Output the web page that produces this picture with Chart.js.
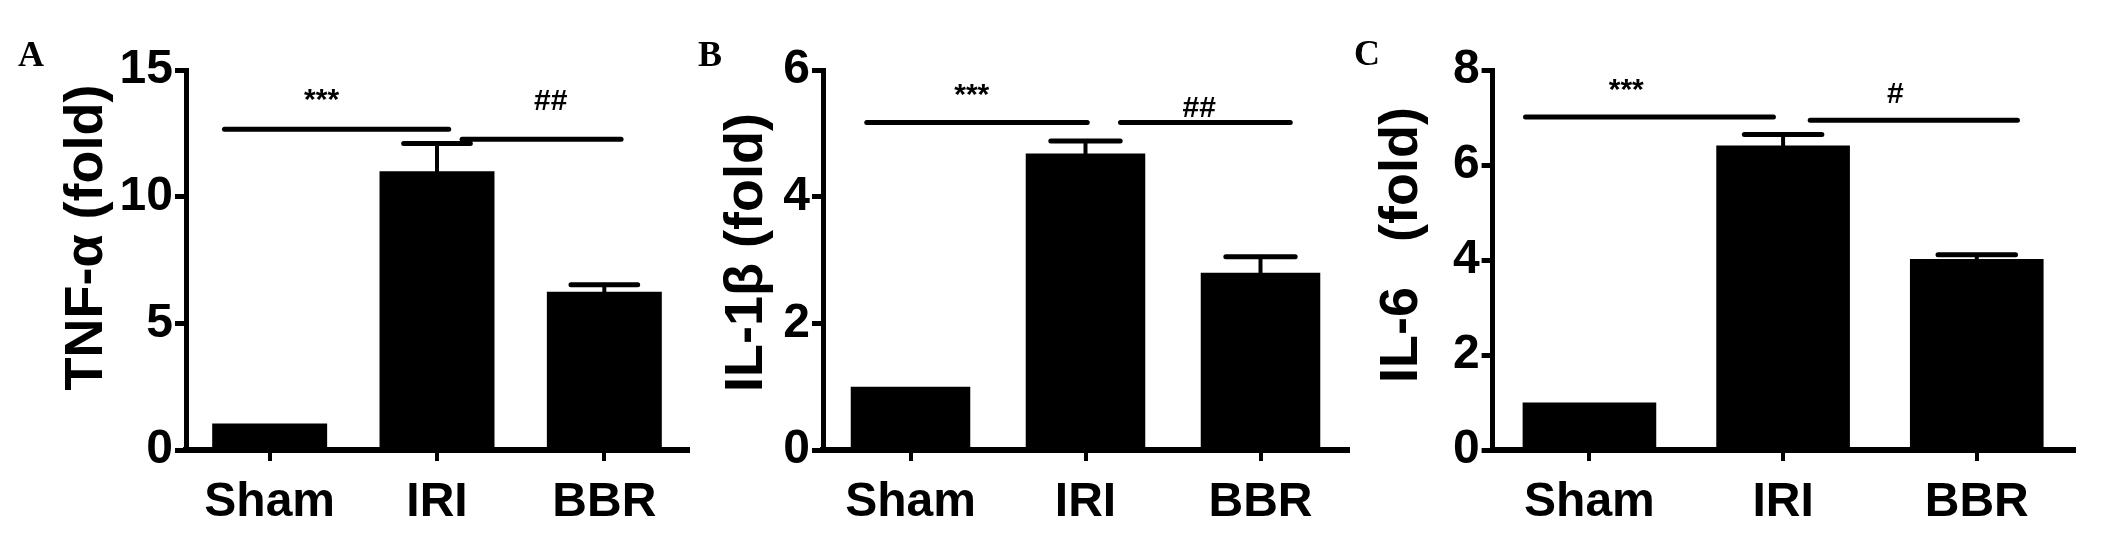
<!DOCTYPE html>
<html>
<head>
<meta charset="utf-8">
<script src="https://cdn.jsdelivr.net/npm/chart.js@4.4.1/dist/chart.umd.min.js"></script>
<style>
  body { margin: 0; background: #fff; }
  #wrap { position: relative; width: 2126px; height: 538px; }
  #wrap canvas { position: absolute; left: 0; top: 0; }
  .panel { position: absolute; font: bold 36px "Liberation Serif", "Times New Roman", serif; color: #000; transform: translate(-50%, -50%); }
</style>
</head>
<body>
<div id="wrap">
  <canvas id="chartA" width="2126" height="538"></canvas>
  <canvas id="chartB" width="2126" height="538"></canvas>
  <canvas id="chartC" width="2126" height="538"></canvas>
  <div class="panel" style="left:31px;top:54px">A</div>
  <div class="panel" style="left:710px;top:54px">B</div>
  <div class="panel" style="left:1367px;top:53px">C</div>
</div>
<script>
// groups
const categories = ["Sham", "IRI", "BBR"];

// means and SEM (fold change)
const tnfMean = [1.05, 11.0, 6.25];
const tnfSem = [0, 1.1, 0.27];
const il1bMean = [1.0, 4.68, 2.8];
const il1bSem = [0, 0.2, 0.25];
const il6Mean = [1.0, 6.41, 4.02];
const il6Sem = [0, 0.23, 0.09];

// y axis ticks: [max, step]
const tnfTicks = [15, 5];
const il1bTicks = [6, 2];
const il6Ticks = [8, 2];

// significance brackets, x in category index units, y in data units
const tnfBrackets = [
  { from: -0.27, to: 1.07, y: 12.66, text: "***", tx: 0.31, ty: 13.8 },
  { from: 1.15, to: 2.1, y: 12.27, text: "##", tx: 1.68, ty: 13.75 }
];
const il1bBrackets = [
  { from: -0.25, to: 1.01, y: 5.17, text: "***", tx: 0.35, ty: 5.6 },
  { from: 1.2, to: 2.17, y: 5.17, text: "##", tx: 1.65, ty: 5.39 }
];
const il6Brackets = [
  { from: -0.33, to: 0.95, y: 7.01, text: "***", tx: 0.19, ty: 7.57 },
  { from: 1.14, to: 2.21, y: 6.94, text: "#", tx: 1.58, ty: 7.47 }
];

Chart.defaults.font.family = "'Liberation Sans', Arial, sans-serif";
Chart.defaults.color = "#000";

// upper error bars only, like the Prism figure
const errorBars = {
  id: "errorBars",
  afterDatasetsDraw(chart, args, opts) {
    const ctx = chart.ctx;
    const y = chart.scales.y;
    const meta = chart.getDatasetMeta(0);
    const values = chart.data.datasets[0].data;
    ctx.save();
    ctx.strokeStyle = "#000";
    ctx.lineCap = "round";
    opts.sem.forEach((e, i) => {
      if (!e) return;
      const bar = meta.data[i];
      const top = y.getPixelForValue(values[i]);
      const cap = y.getPixelForValue(values[i] + e);
      const half = bar.width * 0.58 / 2;
      ctx.lineWidth = 4;
      ctx.beginPath();
      ctx.moveTo(bar.x, top);
      ctx.lineTo(bar.x, cap);
      ctx.stroke();
      ctx.lineWidth = 5;
      ctx.beginPath();
      ctx.moveTo(bar.x - half, cap);
      ctx.lineTo(bar.x + half, cap);
      ctx.stroke();
    });
    ctx.restore();
  }
};

const brackets = {
  id: "brackets",
  afterDatasetsDraw(chart, args, opts) {
    const ctx = chart.ctx;
    const { x, y } = chart.scales;
    ctx.save();
    ctx.strokeStyle = "#000";
    ctx.fillStyle = "#000";
    ctx.lineCap = "round";
    ctx.lineWidth = 5;
    ctx.font = "bold 30px 'Liberation Sans', Arial, sans-serif";
    ctx.textAlign = "center";
    ctx.textBaseline = "middle";
    opts.items.forEach(b => {
      const py = y.getPixelForValue(b.y);
      ctx.beginPath();
      ctx.moveTo(x.getPixelForValue(b.from), py);
      ctx.lineTo(x.getPixelForValue(b.to), py);
      ctx.stroke();
      ctx.fillText(b.text, x.getPixelForValue(b.tx), y.getPixelForValue(b.ty));
    });
    ctx.restore();
  }
};

function makePanel(id, title, means, sem, ticks, items, pad, yWidth, barPct) {
  new Chart(document.getElementById(id), {
    type: "bar",
    data: {
      labels: categories,
      datasets: [{
        data: means,
        backgroundColor: "#000",
        barPercentage: barPct,
        categoryPercentage: 1.0
      }]
    },
    options: {
      responsive: false,
      animation: false,
      devicePixelRatio: 1,
      layout: { padding: { left: pad[0], right: pad[1], top: 70, bottom: 0 } },
      plugins: {
        legend: { display: false },
        tooltip: { enabled: false },
        errorBars: { sem: sem },
        brackets: { items: items }
      },
      scales: {
        x: {
          ticks: { color: "#000", padding: 13, maxRotation: 0, autoSkip: false, font: { size: 48, weight: "bold" } },
          grid: { offset: false, drawOnChartArea: false, tickLength: 11, lineWidth: 4, color: "#000" },
          border: { display: true, width: 6, color: "#000" },
          afterFit: s => { s.height = 88; }
        },
        y: {
          min: 0,
          max: ticks[0],
          ticks: { stepSize: ticks[1], color: "#000", padding: 2, font: { size: 48, weight: "bold" } },
          grid: { drawOnChartArea: false, tickLength: 11, lineWidth: 5, color: "#000" },
          border: { display: true, width: 5, color: "#000" },
          title: { display: true, text: title, color: "#000", padding: 0, font: { size: 54, weight: "bold" } },
          afterFit: s => { s.width = yWidth; }
        }
      }
    },
    plugins: [errorBars, brackets]
  });
}

makePanel("chartA", "   TNF-\u03b1 (fold)", tnfMean, tnfSem, tnfTicks, tnfBrackets, [54.6, 1438], 131.4, 0.687);
makePanel("chartB", " IL-1\u03b2 (fold)", il1bMean, il1bSem, il1bTicks, il1bBrackets, [714.6, 778], 108.4, 0.683);
makePanel("chartC", "  IL-6   (fold)", il6Mean, il6Sem, il6Ticks, il6Brackets, [1369.6, 52.4], 123, 0.69);
</script>
</body>
</html>
